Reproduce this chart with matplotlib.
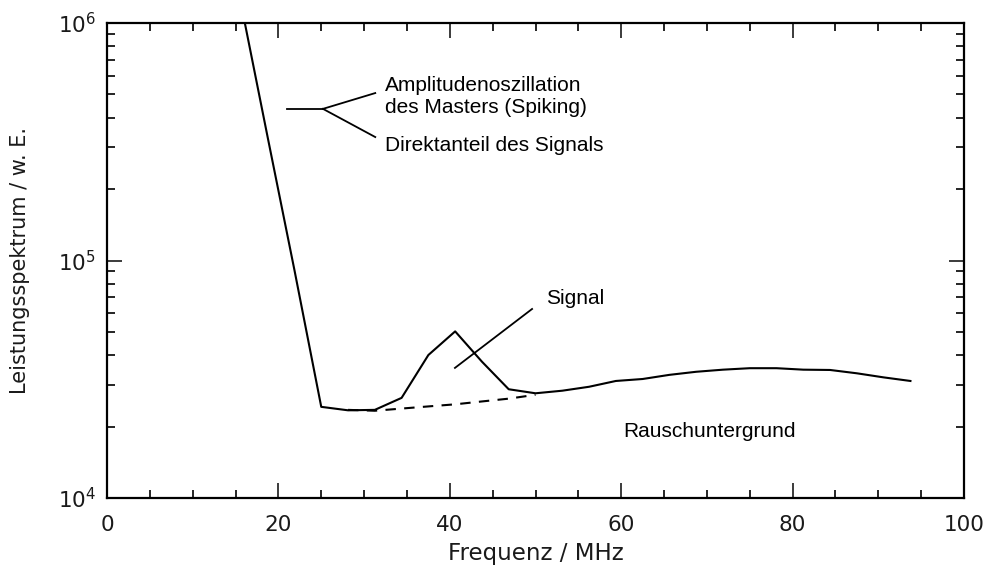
import numpy as np
import matplotlib
matplotlib.use("Agg")
import matplotlib.pyplot as plt
from matplotlib.ticker import FixedLocator, LogLocator, FuncFormatter, NullFormatter

# spectrum, sampled every 3.125 MHz
freq = [15.625, 18.75, 21.875, 25.0, 28.125, 31.25, 34.375, 37.5, 40.625,
        43.75, 46.875, 50.0, 53.125, 56.25, 59.375, 62.5, 65.625, 68.75,
        71.875, 75.0, 78.125, 81.25, 84.375, 87.5, 90.625, 93.75]
power = [1.21e6, 3.3e5, 9.1e4, 2.42e4, 2.34e4, 2.35e4, 2.64e4, 4.0e4, 5.03e4,
         3.75e4, 2.87e4, 2.76e4, 2.83e4, 2.94e4, 3.11e4, 3.17e4, 3.30e4, 3.40e4,
         3.47e4, 3.52e4, 3.52e4, 3.47e4, 3.46e4, 3.35e4, 3.22e4, 3.11e4]

# noise floor under the signal peak
base_freq = [28.125, 31.25, 34.375, 37.5, 40.625, 43.75, 46.875, 50.0]
base_power = [2.35e4, 2.33e4, 2.38e4, 2.43e4, 2.48e4, 2.55e4, 2.62e4, 2.72e4]

x_major = [0, 20, 40, 60, 80, 100]

plt.rcParams["mathtext.fontset"] = "dejavusans"

fig = plt.figure(figsize=(9.88, 5.68), dpi=100)
ax = fig.add_axes([107 / 988, 70 / 568, 857 / 988, 475 / 568])

ax.plot(freq, power, color="black", lw=1.5)
ax.plot(base_freq, base_power, color="black", lw=1.5, dashes=(5, 4))

ax.set_yscale("log")
ax.set_xlim(0, 100)
ax.set_ylim(1e4, 1e6)

ax.xaxis.set_major_locator(FixedLocator(x_major))
ax.xaxis.set_minor_locator(FixedLocator(np.arange(0, 101, 5)))
ax.yaxis.set_major_locator(LogLocator(base=10, numticks=5))
ax.yaxis.set_minor_locator(LogLocator(base=10, subs=np.arange(2, 10), numticks=20))
ax.yaxis.set_minor_formatter(NullFormatter())
ax.yaxis.set_major_formatter(FuncFormatter(lambda v, p: r"$10^{%d}$" % round(np.log10(v))))

ax.tick_params(which="both", direction="in", top=True, right=True, width=1.2)
ax.tick_params(which="major", length=11, labelsize=15.5, pad=12, colors="#1a1a1a")
ax.tick_params(which="minor", length=6)
ax.tick_params(axis="y", which="major", pad=8)
for s in ax.spines.values():
    s.set_linewidth(1.6)

ax.set_xlabel("Frequenz / MHz", fontsize=16.5, color="#1a1a1a", labelpad=5)
ax.set_ylabel("Leistungsspektrum / w. E.", fontsize=15, color="#1a1a1a", labelpad=20)

# annotations
ann = dict(color="black", lw=1.3)
ax.plot([21.0, 25.2], [4.35e5, 4.35e5], **ann)
ax.plot([25.2, 31.3], [4.35e5, 5.07e5], **ann)
ax.plot([25.2, 31.3], [4.35e5, 3.31e5], **ann)
tfont = dict(family="Liberation Sans", fontsize=15, color="black")
ax.text(32.4, 5.43e5, "Amplitudenoszillation", va="center", ha="left", **tfont)
ax.text(32.4, 4.39e5, "des Masters (Spiking)", va="center", ha="left", **tfont)
ax.text(32.4, 3.06e5, "Direktanteil des Signals", va="center", ha="left", **tfont)

ax.plot([40.6, 49.6], [3.53e4, 6.25e4], **ann)
ax.text(51.2, 6.9e4, "Signal", va="center", ha="left", **tfont)
ax.text(60.2, 1.9e4, "Rauschuntergrund", va="center", ha="left", **tfont)

fig.savefig("out.png", dpi=100)
